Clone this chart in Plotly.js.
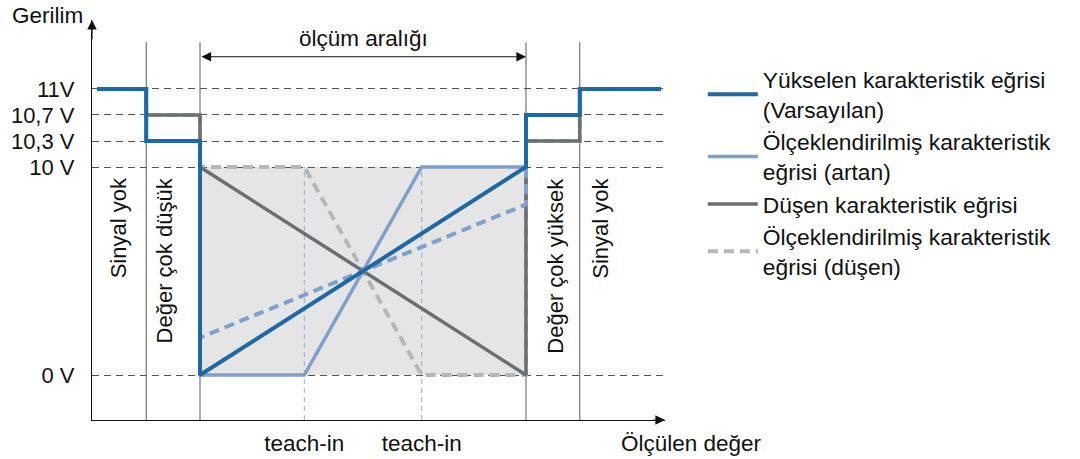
<!DOCTYPE html>
<html><head><meta charset="utf-8">
<script src="https://cdn.plot.ly/plotly-3.0.1.min.js"></script>
<style>html,body{margin:0;padding:0;background:#fff}#chart{width:1080px;height:459px}</style>
</head><body><div id="chart"></div>
<script>
// Voltage levels (V) and their labels
const levelVolts = [0, 10, 10.3, 10.7, 11];
const levelLabels = ['0 V', '10 V', '10,3 V', '10,7 V', '11V'];
// schematic (broken) axis position of each level
const levelPos = [0, 10, 11.25, 12.5, 13.75];

// measured value (% of measuring range): zone boundaries and teach-in points
const zoneBounds = [-16.5, 0, 100, 116.5];
const zoneLabels = ['Sinyal yok', 'Değer çok düşük', 'Değer çok yüksek', 'Sinyal yok'];
const teachIn = [32, 68];
const teachLabels = ['teach-in', 'teach-in'];

// characteristic curves (x = measured value %, v = output voltage V)
const risingX = [-31.6, -16.5, -16.5, 0, 0, 100, 100, 116.5, 116.5, 141.4];
const risingV = [11, 11, 10.3, 10.3, 0, 10, 10.7, 10.7, 11, 11];
const scaledRisingX = [-31.6, -16.5, -16.5, 0, 0, 32, 68, 100, 100, 116.5, 116.5, 141.4];
const scaledRisingV = [11, 11, 10.3, 10.3, 0, 0, 10, 10, 10.7, 10.7, 11, 11];
const fallingX = [-31.6, -16.5, -16.5, 0, 0, 100, 100, 116.5, 116.5, 141.4];
const fallingV = [11, 11, 10.7, 10.7, 10, 0, 10.3, 10.3, 11, 11];
const scaledFallingX = [-31.6, -16.5, -16.5, 0, 0, 32, 68, 100, 100, 116.5, 116.5, 141.4];
const scaledFallingV = [11, 11, 10.7, 10.7, 10, 10, 0, 0, 10.3, 10.3, 11, 11];
const wideRisingX = [0, 0, 100, 100];
const wideRisingV = [0, 1.8, 8.2, 10];

const seriesNames = [
  'Yükselen karakteristik eğrisi<br>(Varsayılan)',
  'Ölçeklendirilmiş karakteristik<br>eğrisi (artan)',
  'Düşen karakteristik eğrisi',
  'Ölçeklendirilmiş karakteristik<br>eğrisi (düşen)'
];

// broken voltage axis: piecewise linear mapping volts -> axis position
function pos(v) {
  for (let i = 1; i < levelVolts.length; i++) {
    if (v <= levelVolts[i]) {
      const a = levelVolts[i - 1], b = levelVolts[i];
      return levelPos[i - 1] + (v - a) / (b - a) * (levelPos[i] - levelPos[i - 1]);
    }
  }
  return levelPos[levelPos.length - 1];
}
const P = arr => arr.map(pos);

const FONT = 'Liberation Sans, Arial, Helvetica, sans-serif';
const XR = [-33.13, 142.64];
const YR = [-2.1635, 17.067];
const sepTop = 16.0;

const traces = [
  {x: scaledFallingX, y: P(scaledFallingV), customdata: scaledFallingV, name: seriesNames[3], legendrank: 4,
   mode: 'lines', line: {color: '#b3b8bb', width: 4, dash: '10px,6px'}},
  {x: fallingX, y: P(fallingV), customdata: fallingV, name: seriesNames[2], legendrank: 3,
   mode: 'lines', line: {color: '#6a6f72', width: 3.5}},
  {x: wideRisingX, y: P(wideRisingV), customdata: wideRisingV, name: 'wide', showlegend: false,
   mode: 'lines', line: {color: '#7f9fce', width: 4, dash: '10px,6px'}},
  {x: scaledRisingX, y: P(scaledRisingV), customdata: scaledRisingV, name: seriesNames[1], legendrank: 2,
   mode: 'lines', line: {color: '#7f9fce', width: 3.5}},
  {x: risingX, y: P(risingV), customdata: risingV, name: seriesNames[0], legendrank: 1,
   mode: 'lines', line: {color: '#1d68a7', width: 4}}
];
traces.forEach(t => { t.hovertemplate = '%{x}: %{customdata} V<extra></extra>'; });

const shapes = [
  {type: 'rect', xref: 'x', yref: 'y', x0: zoneBounds[1], x1: zoneBounds[2], y0: pos(0), y1: pos(10),
   fillcolor: '#e5e5e5', line: {width: 0}, layer: 'below'}
];
zoneBounds.forEach(b => shapes.push({type: 'line', xref: 'x', yref: 'y', x0: b, x1: b, y0: YR[0], y1: sepTop,
  line: {color: '#5a5a5a', width: 1}, layer: 'between'}));
teachIn.forEach(t => shapes.push({type: 'line', xref: 'x', yref: 'y', x0: t, x1: t, y0: YR[0], y1: pos(10),
  line: {color: '#8eaedb', width: 1, dash: '5px,4px'}, layer: 'between'}));

const annotations = [
  // axis arrowheads
  {x: XR[1], y: YR[0], ax: XR[1] - 4, ay: YR[0], xref: 'x', yref: 'y', axref: 'x', ayref: 'y', text: '',
   showarrow: true, arrowhead: 2, arrowsize: 1.6, arrowwidth: 1.2, arrowcolor: '#111', standoff: 0},
  {x: XR[0], y: YR[1], ax: XR[0], ay: YR[1] - 1, xref: 'x', yref: 'y', axref: 'x', ayref: 'y', text: '',
   showarrow: true, arrowhead: 2, arrowsize: 1.6, arrowwidth: 1.2, arrowcolor: '#111', standoff: 0},
  // measuring range arrow
  {x: zoneBounds[2], y: 15.3, ax: zoneBounds[1], ay: 15.3, xref: 'x', yref: 'y', axref: 'x', ayref: 'y', text: '',
   showarrow: true, arrowhead: 2, startarrowhead: 2, arrowside: 'end+start', arrowsize: 1.6, startarrowsize: 1.6,
   arrowwidth: 1.2, arrowcolor: '#111', standoff: 0, startstandoff: 0},
  {x: (zoneBounds[1] + zoneBounds[2]) / 2, y: 16.2, xref: 'x', yref: 'y', text: 'ölçüm aralığı', showarrow: false,
   font: {family: FONT, size: 22.5, color: '#111'}},
  // axis titles
  {x: -0.0785, y: 1.0125, xref: 'paper', yref: 'paper', text: 'Gerilim', showarrow: false,
   xanchor: 'center', yanchor: 'middle', font: {family: FONT, size: 22.5, color: '#111'}},
  {x: 1.047, y: -0.0575, xref: 'paper', yref: 'paper', text: 'Ölçülen değer', showarrow: false,
   xanchor: 'center', yanchor: 'middle', font: {family: FONT, size: 22.5, color: '#111'}}
];
// zone labels (rotated)
const zoneLabelX = [-25, -11, 109, 123];
zoneLabels.forEach((t, i) => annotations.push({x: zoneLabelX[i], y: 9.6, xref: 'x', yref: 'y', text: t,
  textangle: -90, showarrow: false, xanchor: 'center', yanchor: 'top', font: {family: FONT, size: 22, color: '#111'}}));

const layout = {
  width: 1080, height: 459,
  margin: {l: 92, r: 415, t: 20, b: 39},
  paper_bgcolor: '#fff', plot_bgcolor: '#fff',
  font: {family: FONT, size: 22, color: '#111'},
  xaxis: {range: XR, showgrid: false, zeroline: false, showline: true, linecolor: '#111', linewidth: 1.2,
    tickmode: 'array', tickvals: teachIn, ticktext: teachLabels, ticks: '', ticklabelstandoff: 3,
    tickfont: {family: FONT, size: 22.5, color: '#111'}, fixedrange: true},
  yaxis: {range: YR, zeroline: false, showline: true, linecolor: '#111', linewidth: 1.2,
    tickmode: 'array', tickvals: levelPos, ticktext: levelLabels, ticks: '', ticklabelstandoff: 12,
    showgrid: true, gridcolor: '#555', gridwidth: 1, griddash: '7px,5px',
    tickfont: {family: FONT, size: 22, color: '#111'}, fixedrange: true},
  showlegend: true,
  legend: {x: 1.066, y: 0.905, xanchor: 'left', yanchor: 'top', bgcolor: 'rgba(0,0,0,0)',
    font: {family: FONT, size: 22.8, color: '#111'}, itemwidth: 50, tracegroupgap: 0},
  shapes: shapes,
  annotations: annotations
};

Plotly.newPlot('chart', traces, layout, {displayModeBar: false, staticPlot: false});
</script>
</body></html>
